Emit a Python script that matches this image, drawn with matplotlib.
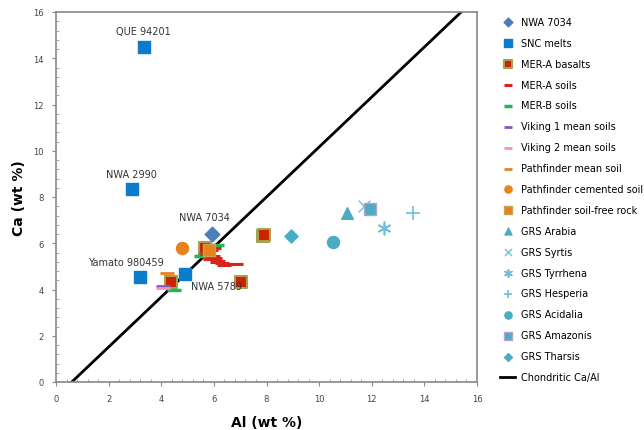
import matplotlib
matplotlib.use("Agg")
import matplotlib.pyplot as plt
from matplotlib.lines import Line2D

# ---- data ----
nwa7034_al = [5.91]; nwa7034_ca = [6.41]
snc_al = [3.33, 2.88, 3.18, 4.89]
snc_ca = [14.5, 8.35, 4.55, 4.68]
snc_labels = ["QUE 94201", "NWA 2990", "Yamato 980459", "NWA 5789"]
mera_bas_al = [5.68, 4.38, 7.03, 7.86, 7.92]
mera_bas_ca = [5.80, 4.34, 4.31, 6.30, 6.36]
mera_soil_al = [5.75, 5.95, 6.05, 6.15, 6.30, 6.55, 6.85, 5.90, 6.00, 6.10, 6.40, 5.85]
mera_soil_ca = [5.55, 5.45, 5.35, 5.25, 5.15, 5.10, 5.10, 5.70, 5.80, 5.20, 5.05, 5.30]
merb_soil_al = [6.10, 5.50, 4.48, 5.65]
merb_soil_ca = [5.93, 5.47, 3.98, 5.55]
vik1_al = [4.08]; vik1_ca = [4.17]
vik2_al = [4.08]; vik2_ca = [4.07]
pf_soil_al = [4.20]; pf_soil_ca = [4.72]
pf_cem_al = [4.80]; pf_cem_ca = [5.80]
pf_rock_al = [5.81]; pf_rock_ca = [5.71]
grs_arabia = (11.07, 7.30)
grs_syrtis = (11.70, 7.60)
grs_tyrrhena = (12.46, 6.65)
grs_hesperia = (13.55, 7.30)
grs_acidalia = (10.52, 6.05)
grs_amazonis = (11.93, 7.49)
grs_tharsis = (8.94, 6.31)
chond_al = [0.6, 15.4]
chond_ca = [0.0, 16.0]

fig = plt.figure(figsize=(6.44, 4.31), dpi=100)
ax = fig.add_axes([56/644, 1 - 383/431, (477-56)/644, (383-13)/431])

grs_c = "#4BACC6"
h = []
h.append(ax.scatter(nwa7034_al, nwa7034_ca, marker="D", s=55, color="#4A7EBB", label="NWA 7034", zorder=5))
h.append(ax.scatter(snc_al, snc_ca, marker="s", s=80, color="#0A7CCB", label="SNC melts", zorder=4))
h.append(ax.scatter(mera_bas_al, mera_bas_ca, marker="s", s=80, color="#CC2200", edgecolors="#A8A050", linewidths=1.5, label="MER-A basalts", zorder=3))
h.append(ax.scatter(mera_soil_al, mera_soil_ca, marker="_", s=110, color="#D9261C", linewidths=2.2, label="MER-A soils", zorder=4))
h.append(ax.scatter(merb_soil_al, merb_soil_ca, marker="_", s=110, color="#1DB954", linewidths=2.5, label="MER-B soils", zorder=3))
h.append(ax.scatter(vik1_al, vik1_ca, marker="_", s=90, color="#8855CC", linewidths=2, label="Viking 1 mean soils", zorder=4))
h.append(ax.scatter(vik2_al, vik2_ca, marker="_", s=90, color="#F48FC8", linewidths=2, label="Viking 2 mean soils", zorder=4))
h.append(ax.scatter(pf_soil_al, pf_soil_ca, marker="_", s=90, color="#E8821E", linewidths=2, label="Pathfinder mean soil", zorder=4))
h.append(ax.scatter(pf_cem_al, pf_cem_ca, marker="o", s=75, color="#E8821E", label="Pathfinder cemented soil", zorder=4))
h.append(ax.scatter(pf_rock_al, pf_rock_ca, marker="s", s=80, color="#E8821E", edgecolors="#C8A050", linewidths=1, label="Pathfinder soil-free rock", zorder=5))
h.append(ax.scatter([grs_arabia[0]], [grs_arabia[1]], marker="^", s=70, color=grs_c, label="GRS Arabia", zorder=4))
h.append(ax.scatter([grs_syrtis[0]], [grs_syrtis[1]], marker="x", s=70, color="#7CC8E0", linewidths=1.2, label="GRS Syrtis", zorder=4))
h.append(ax.scatter([grs_tyrrhena[0]], [grs_tyrrhena[1]], marker=(6, 2, 0), s=80, color="#6CC0DC", linewidths=1.2, label="GRS Tyrrhena", zorder=4))
h.append(ax.scatter([grs_hesperia[0]], [grs_hesperia[1]], marker="+", s=90, color="#6CC0DC", linewidths=1.2, label="GRS Hesperia", zorder=4))
h.append(ax.scatter([grs_acidalia[0]], [grs_acidalia[1]], marker="o", s=75, color=grs_c, label="GRS Acidalia", zorder=4))
h.append(ax.scatter([grs_amazonis[0]], [grs_amazonis[1]], marker="s", s=80, color=grs_c, edgecolors="#B8A0CC", linewidths=1, label="GRS Amazonis", zorder=5))
h.append(ax.scatter([grs_tharsis[0]], [grs_tharsis[1]], marker="D", s=45, color=grs_c, label="GRS Tharsis", zorder=4))
line, = ax.plot(chond_al, chond_ca, color="black", lw=2, label="Chondritic Ca/Al", zorder=2)
h.append(line)

# labels for SNC melts and NWA 7034
offsets = [(0, 11), (0, 11), (-10, 11), (23, -9)]
for x, y, t, (dx, dy) in zip(snc_al + [nwa7034_al[0]], snc_ca + [nwa7034_ca[0]],
                             snc_labels + ["NWA 7034"], offsets + [(-5, 12)]):
    ax.annotate(t, (x, y), xytext=(dx, dy), textcoords="offset points",
                ha="center", va="center", fontsize=7, color="#333333")

ax.set_xlim(0, 16)
ax.set_ylim(0, 16)
ax.set_xticks(range(0, 17, 2))
ax.set_yticks(range(0, 17, 2))
ax.set_xticks([i * 0.4 for i in range(41)], minor=True)
ax.set_yticks([i * 0.4 for i in range(41)], minor=True)
ax.tick_params(which="major", direction="out", length=3, color="#888888", labelsize=6, labelcolor="#444444", pad=6)
ax.tick_params(which="minor", direction="in", length=2, color="#999999")
for s in ax.spines.values():
    s.set_color("#888888")
    s.set_linewidth(1.2)
ax.set_xlabel("Al (wt %)", fontsize=10, fontweight="bold", labelpad=8)
ax.set_ylabel("Ca (wt %)", fontsize=10, fontweight="bold", labelpad=5)

leg = fig.legend(handles=h, loc="upper left", bbox_to_anchor=(496/644, 1 - 14/431),
                 frameon=False, fontsize=7, labelspacing=1.12, handlelength=1.6,
                 handletextpad=0.6, borderaxespad=0, markerscale=0.6)

fig.savefig("out.png", dpi=100)
